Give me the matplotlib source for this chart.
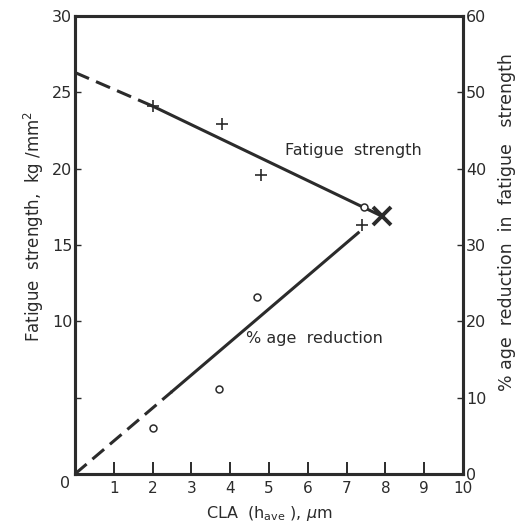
import matplotlib.pyplot as plt

# CLA roughness (um) vs fatigue strength / % reduction
x_fs = [2.0, 3.8, 4.8, 7.4]
fs = [24.1, 22.9, 19.6, 16.3]          # kg/mm^2, "+" points
x_red = [2.0, 3.7, 4.7, 7.45]
red = [6.0, 11.1, 23.2, 35.0]          # %, "o" points

fs_dash_x = [0, 2.0]
fs_dash_y = [26.3, 24.1]
fs_line_x = [2.0, 7.9]
fs_line_y = [24.1, 16.9]
red_dash_x = [0, 2.5]
red_dash_y = [0, 10.8]
red_line_x = [2.5, 7.3]
red_line_y = [10.8, 31.6]
cross_x, cross_y = 7.9, 16.9

ink = '#2b2b2b'
plt.rcParams['font.family'] = 'DejaVu Sans'

fig = plt.figure(figsize=(5.17, 5.27), dpi=100)
ax = fig.add_axes([0.145, 0.1006, 0.7506, 0.869])
ax2 = ax.twinx()

ax.set_xlim(0, 10)
ax.set_ylim(0, 30)
ax2.set_ylim(0, 60)

ax.plot(fs_dash_x, fs_dash_y, color=ink, lw=2.2, dashes=(5, 2.5))
ax.plot(fs_line_x, fs_line_y, color=ink, lw=2.2)
ax.plot(x_fs, fs, ls='none', marker='+', ms=8, mew=1.2, color=ink)
ax.plot(cross_x, cross_y, ls='none', marker='x', ms=13, mew=2.8, color=ink)

ax2.plot(red_dash_x, red_dash_y, color=ink, lw=2.2, dashes=(5, 2.5))
ax2.plot(red_line_x, red_line_y, color=ink, lw=2.2)
ax2.plot(x_red, red, ls='none', marker='o', ms=5, mew=1.1, mfc='white', mec=ink)

for a in (ax, ax2):
    for s in a.spines.values():
        s.set_linewidth(2.2)
        s.set_color(ink)

ax.set_xticks(range(1, 11))
ax.tick_params(axis='x', direction='in', length=9, width=1.4, colors=ink,
               labelsize=11, pad=5)
ax.set_yticks([5, 10, 15, 20, 25, 30])
ax.set_yticklabels(['', '10', '15', '20', '25', '30'])
ax.tick_params(axis='y', direction='in', length=4, width=1.0, colors=ink,
               labelsize=11.5, pad=2)
ax2.set_yticks([0, 10, 20, 30, 40, 50, 60])
ax2.tick_params(axis='y', direction='in', length=4, width=1.0, colors=ink,
                labelsize=11.5, pad=2)
ax.text(-0.25, -0.65, '0', ha='center', va='center', fontsize=11.5, color=ink)

ax.text(5.4, 20.9, 'Fatigue  strength', fontsize=11.5, color=ink)
ax.text(4.4, 8.6, '% age  reduction', fontsize=11.5, color=ink)

ax.set_xlabel(r'CLA  (h$_{\rm ave}$ ), $\mu$m', fontsize=11.5, color=ink, labelpad=6)
ax.set_ylabel(r'Fatigue  strength,  kg /mm$^2$', fontsize=12, color=ink)
ax.yaxis.set_label_coords(-0.075, 0.54)
ax2.set_ylabel('% age  reduction  in  fatigue   strength', fontsize=12.5, color=ink)
ax2.yaxis.set_label_coords(1.09, 0.55)

fig.savefig('out.png', dpi=100)
